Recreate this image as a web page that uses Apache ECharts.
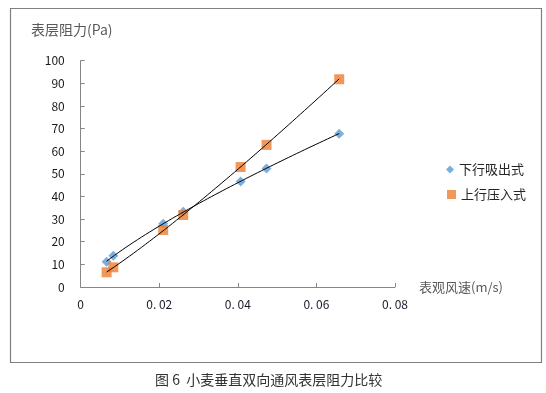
<!DOCTYPE html>
<html>
<head>
<meta charset="utf-8">
<script src="https://cdn.jsdelivr.net/npm/echarts@6/dist/echarts.min.js"></script>
<style>
html,body{margin:0;padding:0;background:#fff;}
#chart{width:546px;height:393px;}
</style>
</head>
<body>
<div id="chart"></div>
<script>
// Data
const windSpeed = [0.0066, 0.0083, 0.0210, 0.0261, 0.0407, 0.0473, 0.0658];
const downSuction = [11.2, 13.8, 28.0, 33.2, 46.6, 52.4, 67.7];   // 下行吸出式
const upPressure  = [6.5, 8.7, 25.2, 31.8, 53.0, 62.8, 91.8];     // 上行压入式
const seriesNames = ['下行吸出式', '上行压入式'];
const xTickLabels = ['0', '0. 02', '0. 04', '0. 06', '0. 08'];
const yTicks = [0, 10, 20, 30, 40, 50, 60, 70, 80, 90, 100];
const xTitle = '表观风速(m/s)';
const yTitle = '表层阻力(Pa)';
const caption = '图 6  小麦垂直双向通风表层阻力比较';

function pairs(xs, ys) { return xs.map((x, i) => [x, ys[i]]); }
// power trendline y = a*x^b fitted in log space (as a spreadsheet power trendline does)
function powerTrend(xs, ys) {
  const n = xs.length;
  const lx = xs.map(Math.log), ly = ys.map(Math.log);
  const mx = lx.reduce((a, b) => a + b, 0) / n;
  const my = ly.reduce((a, b) => a + b, 0) / n;
  let sxy = 0, sxx = 0;
  for (let i = 0; i < n; i++) { sxy += (lx[i] - mx) * (ly[i] - my); sxx += (lx[i] - mx) ** 2; }
  const b = sxy / sxx, a = Math.exp(my - b * mx);
  const x0 = Math.min(...xs), x1 = Math.max(...xs);
  const out = [];
  const steps = 60;
  for (let i = 0; i <= steps; i++) {
    const x = x0 + (x1 - x0) * i / steps;
    out.push([x, a * Math.pow(x, b)]);
  }
  return out;
}

const chart = echarts.init(document.getElementById('chart'), null, {renderer: 'canvas'});
const font = '"Noto Sans CJK SC", "Noto Sans", sans-serif';
const axisGray = '#868686';

chart.setOption({
  animation: false,
  backgroundColor: '#fff',
  textStyle: {fontFamily: font},
  grid: {left: 80.7, right: 151, top: 60.7, bottom: 106, containLabel: false},
  xAxis: {
    type: 'value', min: 0, max: 0.08, interval: 0.02,
    splitLine: {show: false},
    axisLine: {show: true, lineStyle: {color: axisGray, width: 1}},
    axisTick: {show: true, inside: true, length: 4, lineStyle: {color: axisGray}},
    axisLabel: {
      color: '#1a1a2a', fontSize: 12, margin: 11, fontFamily: font,
      formatter: function (v) { return xTickLabels[Math.round(v / 0.02)]; }
    },
    name: xTitle, nameLocation: 'end', nameGap: 24,
    nameTextStyle: {color: '#595959', fontSize: 13, fontFamily: font, align: 'left', verticalAlign: 'middle'}
  },
  yAxis: {
    type: 'value', min: yTicks[0], max: yTicks[yTicks.length - 1], interval: 10,
    splitLine: {show: false},
    axisLine: {show: true, lineStyle: {color: axisGray, width: 1}},
    axisTick: {show: true, inside: true, length: 4, lineStyle: {color: axisGray}},
    axisLabel: {color: '#1a1a1a', fontSize: 12, margin: 16, fontFamily: font}
  },
  legend: [
    {
      data: [{name: seriesNames[0], icon: 'diamond'}],
      orient: 'vertical', left: 446, top: 163, itemWidth: 8, itemHeight: 8,
      textStyle: {color: '#262626', fontSize: 13, fontFamily: font}, padding: 0
    },
    {
      data: [{name: seriesNames[1], icon: 'rect'}],
      orient: 'vertical', left: 447, top: 188, itemWidth: 9, itemHeight: 9,
      textStyle: {color: '#262626', fontSize: 13, fontFamily: font}, padding: 0
    }
  ],
  series: [
    {
      name: seriesNames[0], type: 'scatter', symbol: 'diamond', symbolSize: 10,
      itemStyle: {color: '#5B9BD5'}, data: pairs(windSpeed, downSuction), z: 2
    },
    {
      name: seriesNames[1], type: 'scatter', symbol: 'rect', symbolSize: 10,
      itemStyle: {color: '#ED7D31'}, data: pairs(windSpeed, upPressure), z: 2
    },
    {
      name: 'trend1', type: 'line', data: powerTrend(windSpeed, downSuction), showSymbol: false,
      lineStyle: {color: '#000', width: 1}, z: 5, silent: true
    },
    {
      name: 'trend2', type: 'line', data: powerTrend(windSpeed, upPressure), showSymbol: false,
      lineStyle: {color: '#000', width: 1}, z: 5, silent: true
    }
  ],
  graphic: [
    {
      type: 'rect', shape: {x: 10.5, y: 8.5, width: 531, height: 354},
      style: {fill: 'none', stroke: '#808080', lineWidth: 1.2}, silent: true, z: -1
    },
    {
      type: 'text', left: 31, top: 23,
      style: {text: yTitle, fill: '#595959', fontSize: 14, fontFamily: font}
    },
    {
      type: 'text', left: 155, top: 373,
      style: {text: caption, fill: '#333', fontSize: 14, fontFamily: font}
    }
  ]
});
</script>
</body>
</html>
